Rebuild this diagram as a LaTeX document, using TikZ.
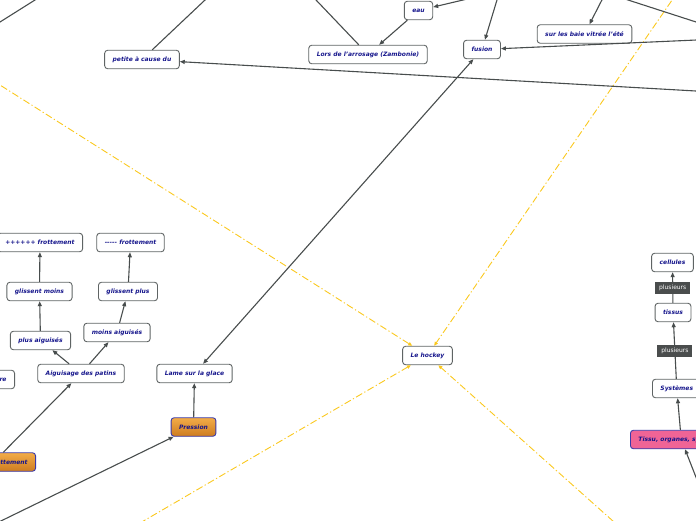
\documentclass[tikz,border=0pt]{standalone}
\usepackage{fontspec}
\setmainfont{DejaVu Sans}
\usetikzlibrary{arrows.meta,positioning}
\definecolor{txtblue}{RGB}{22,22,140}
\definecolor{boxgray}{RGB}{95,100,100}
\definecolor{lngray}{RGB}{72,77,77}
\definecolor{hottop}{RGB}{242,172,72}
\definecolor{hotbot}{RGB}{206,124,32}
\definecolor{hotedge}{RGB}{58,58,170}
\definecolor{pinkfill}{RGB}{240,100,150}
\definecolor{taggray}{RGB}{74,77,77}
\definecolor{hockeyyel}{RGB}{250,200,30}
\tikzset{
  topicbox/.style={draw=boxgray, fill=white, rounded corners=3pt, line width=0.9pt,
    minimum height=18.5pt, inner xsep=8pt, inner ysep=0pt, text=txtblue,
    font=\fontsize{6}{7}\selectfont\bfseries\itshape},
  hotbox/.style={topicbox, draw=hotedge, top color=hottop, bottom color=hotbot},
  pinkbox/.style={topicbox, draw=hotedge, fill=pinkfill},
  tagbox/.style={fill=taggray, text=white, inner xsep=4pt, inner ysep=0pt,
    minimum height=12pt, font=\fontsize{6}{7}\selectfont},
  linkln/.style={-{Triangle[length=5pt,width=4pt]}, line width=1.1pt, lngray},
  plainln/.style={line width=1.1pt, lngray},
  mainln/.style={-{Triangle[length=4pt,width=3.5pt]}, line width=0.9pt, hockeyyel,
    dash pattern=on 7pt off 2.5pt on 1.2pt off 2.5pt},
}

\begin{document}
\begin{tikzpicture}[x=1pt,y=-1pt]
    \clip (0,0) rectangle (696,520);
    % nodes
    \node[topicbox] (petite) at (142,59.5) {petite à cause du};
    \node[topicbox] (eau) at (418.5,10.5) {eau};
    \node[topicbox] (lors) at (368,54.5) {Lors de l'arrosage (Zambonie)};
    \node[topicbox] (fusion) at (482,49.5) {fusion};
    \node[topicbox] (baie) at (584.5,34) {sur les baie vitrée l'été};
    \node[topicbox] (plusfr) at (40,242.5) {++++++ frottement};
    \node[topicbox] (moinsfr) at (130.5,242.5) {-{}-{}-{}-{}- frottement};
    \node[topicbox] (glmoins) at (39.5,291.5) {glissent moins};
    \node[topicbox] (glplus) at (128,291.5) {glissent plus};
    \node[topicbox] (plusaig) at (40.5,340.5) {plus aiguisés};
    \node[topicbox] (moinsaig) at (117,332.5) {moins aiguisés};
    \node[topicbox] (aig) at (81,373.5) {Aiguisage des patins};
    \node[topicbox, anchor=east] (temp) at (15,379.5) {Température};
    \node[hotbox, anchor=east] (frot) at (36,462) {Frottement};
    \node[topicbox] (lame) at (194.5,373.5) {Lame sur la glace};
    \node[hotbox] (pression) at (193.5,427) {Pression};
    \node[topicbox] (hockey) at (427.5,355.5) {Le hockey};
    \node[topicbox] (cell) at (672.5,262.5) {cellules};
    \node[topicbox] (tis) at (673,312.5) {tissus};
    \node[topicbox, anchor=west] (sys) at (652,388.5) {Systèmes};
    \node[pinkbox, anchor=west] (tissu) at (630,439.5) {Tissu, organes, systèmes};
    % free ends outside the frame
    \coordinate (a1) at (45,-6.3);
    \coordinate (a2) at (-10,28.3);
    \coordinate (topP) at (215.6,-10);
    \coordinate (topL) at (306.5,-10);
    \coordinate (srcEau) at (480,-4);
    \coordinate (srcFus) at (500,-10);
    \coordinate (srcBaie) at (607,-10);
    \coordinate (b1) at (620,-2.6);
    \coordinate (b2) at (710,26.5);
    \coordinate (rightF) at (710,39.4);
    \coordinate (rightP) at (710,91.8);
    \coordinate (srcPr) at (-10,526.3);
    \coordinate (srcTs) at (701,490);
    \coordinate (y1) at (-10,78.7);
    \coordinate (y2) at (679,-10);
    \coordinate (y3) at (128,530);
    \coordinate (y4) at (623,530);
    % main branches
    \draw[mainln] (y1) -- (hockey);
    \draw[mainln] (y2) -- (hockey);
    \draw[mainln] (y3) -- (hockey);
    \draw[mainln] (y4) -- (hockey);
    % top part
    \draw[plainln] (a1) -- (a2);
    \draw[plainln] (b1) -- (b2);
    \draw[plainln] (topP) -- (petite);
    \draw[plainln] (topL) -- (lors);
    \draw[linkln] (eau) -- (lors);
    \draw[linkln] (srcEau) -- (eau);
    \draw[linkln] (srcFus) -- (fusion);
    \draw[linkln] (srcBaie) -- (baie);
    \draw[linkln] (rightF) -- (fusion);
    \draw[linkln] (rightP) -- (petite);
    \draw[linkln, {Triangle[length=5pt,width=4pt]}-{Triangle[length=5pt,width=4pt]}]
      (lame) -- (fusion);
    % skates
    \draw[linkln] (srcPr) -- (pression);
    \draw[linkln] (pression) -- (lame);
    \draw[linkln] (frot.119) -- (aig);
    \draw[linkln] (aig) -- (plusaig);
    \draw[linkln] (aig) -- (moinsaig);
    \draw[linkln] (plusaig) -- (glmoins);
    \draw[linkln] (moinsaig) -- (glplus);
    \draw[linkln] (glmoins) -- (plusfr);
    \draw[linkln] (glplus) -- (moinsfr);
    % body
    \draw[linkln] (srcTs) -- (tissu);
    \draw[linkln] (tissu) -- (sys);
    \draw[linkln] (sys) -- node[tagbox] {plusieurs} (tis);
    \draw[linkln] (tis) -- node[tagbox] {plusieurs} (cell);
  \end{tikzpicture}
\end{document}
